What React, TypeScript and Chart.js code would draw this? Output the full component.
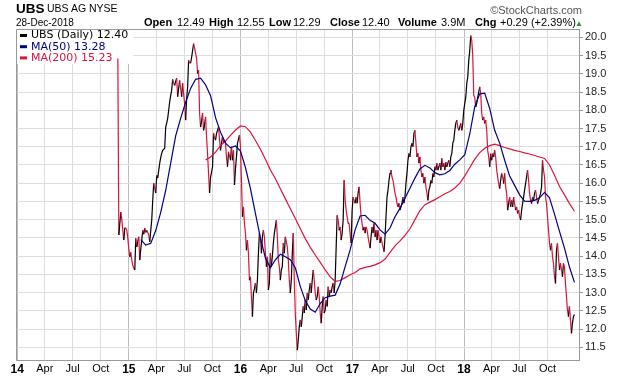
import React, { useEffect, useRef } from "react";
import { Chart, registerables } from "chart.js";

Chart.register(...registerables);

// x unit: days since 2014-01-01
const PRICE_START_DAY = 329; // 2014-11-26
const SAMPLE_DAYS = 3.26;
const MA50_START_DAY = 404;
const MA200_START_DAY = 616;
const MA_STEP_DAYS = 16.3;

const closes = [
  19.42, 14.58, 14.9, 15.21, 15.0, 14.7, 14.44, 14.77, 14.77, 14.71,
  14.5, 14.2, 13.98, 14.1, 13.89, 13.75, 13.67, 13.62, 14.49, 14.25,
  14.4, 14.53, 13.89, 14.2, 14.44, 14.71, 14.6, 14.77, 14.65, 14.71,
  14.65, 14.58, 14.39, 14.7, 14.99, 15.53, 16.0, 15.85, 15.73, 16.22,
  16.14, 16.35, 16.55, 16.7, 16.82, 16.9, 16.93, 16.96, 17.54, 17.65,
  17.78, 18.0, 18.23, 18.4, 18.55, 18.85, 18.75, 18.68, 18.8, 18.88,
  18.37, 18.6, 18.82, 18.6, 18.37, 18.74, 18.45, 18.19, 17.73, 18.3,
  18.64, 19.37, 19.3, 19.29, 19.45, 19.64, 19.83, 19.7, 19.56, 19.42,
  19.01, 19.1, 17.92, 17.54, 17.7, 17.92, 17.45, 17.6, 17.82, 17.27,
  16.8, 16.27, 15.73, 16.17, 16.3, 16.45, 17.37, 17.25, 17.18, 17.37,
  17.45, 17.54, 17.2, 16.9, 17.1, 17.27, 17.1,
  17.18, 17.1, 16.7, 16.45, 16.86, 16.75, 16.63, 17.0, 16.63, 16.9,
  15.95, 16.4, 16.72, 17.1, 17.2, 17.32, 17.0, 16.08, 15.08, 15.35,
  14.9, 14.63, 14.16, 14.44, 14.08, 13.34, 13.43, 12.9, 12.34, 12.99,
  13.1, 13.26, 12.99, 13.34, 14.08, 14.63, 14.44, 14.08, 14.53, 14.71,
  14.53, 14.08, 13.71, 13.98, 13.07, 13.26, 14.08, 13.71, 14.0, 14.36,
  14.63, 14.8, 14.99, 14.53, 13.89, 13.71, 13.34, 13.62, 13.71, 14.36,
  14.08, 14.53, 14.4, 14.25, 13.89, 13.34, 12.99, 13.34, 14.08, 14.63,
  13.34, 12.44, 11.89, 11.42, 11.7, 12.06, 12.25, 12.06, 12.34, 12.62,
  12.44, 12.8, 12.52, 12.99, 12.8, 13.07, 13.26, 12.99, 13.34, 13.62,
  13.34, 12.99, 12.8, 12.89, 13.16, 12.89, 12.44, 12.16, 12.62, 12.89,
  12.44, 12.52, 12.8, 12.62, 13.16, 12.89, 13.07, 12.99, 13.16, 13.26,
  12.99, 13.34, 14.25, 15.12, 14.99, 14.71, 14.8, 14.44, 14.63, 14.99,
  16.08, 15.53, 15.26, 15.08, 14.9, 14.9, 14.6, 14.36, 15.26, 15.62,
  15.53, 15.45, 15.62, 15.45, 15.73, 15.9, 15.45, 15.08, 14.9, 14.71,
  14.8, 14.63, 14.8, 14.71, 14.53, 14.36, 14.22, 14.53, 14.8, 14.63,
  14.9, 14.53, 14.71, 14.44, 14.71, 14.53, 14.36, 14.53, 14.36, 14.25,
  14.12, 14.53, 15.08, 15.62, 15.81, 16.08, 16.27, 16.36, 16.17, 16.08,
  15.9, 15.73, 15.62, 15.45, 15.35, 15.45, 15.26, 15.35, 15.45, 15.62,
  15.45, 15.62, 16.0, 16.27, 16.63, 16.82, 16.72, 17.0, 17.1, 17.0,
  17.37, 17.45, 17.1, 16.72, 16.82, 16.55, 16.72, 16.36, 16.17, 16.27,
  16.0, 16.17, 15.9, 15.73, 15.53, 15.81, 15.9, 16.08, 16.0, 16.27,
  16.17, 16.45, 16.36, 16.55, 16.36, 16.45, 16.55, 16.36, 16.68, 16.45,
  16.55, 16.36, 16.58, 16.45, 16.55, 16.63, 16.45, 16.72, 16.82, 17.1,
  17.18, 17.45, 17.64, 17.73, 17.54, 17.45, 17.54, 17.64, 17.45, 17.64,
  18.0, 18.19, 18.36, 18.74, 18.91, 19.37, 19.64, 20.05, 19.92, 19.5,
  18.41, 18.36, 18.09, 18.19, 18.36, 18.5, 18.64, 18.46, 17.91, 17.73,
  17.82, 17.64, 17.73, 17.45, 16.9, 16.72, 16.45, 16.81, 16.63, 16.81,
  16.72, 16.9, 16.72, 16.36, 16.17, 15.99, 15.85, 16.08, 16.27, 16.17,
  15.99, 16.27, 15.9, 15.72, 15.26, 15.44, 15.62, 15.35, 15.53, 15.35,
  15.62, 15.44, 15.26, 15.35, 15.17, 15.26, 15.08, 14.99, 15.26, 15.44,
  15.62, 15.81, 15.99, 16.17, 16.36, 16.08, 15.72, 15.53, 15.44, 15.62,
  15.53, 15.72, 15.81, 15.62, 15.44, 15.53, 15.62, 15.72, 15.9, 16.63,
  16.36, 16.17, 15.62, 15.44, 15.08, 14.71, 14.35, 14.16, 14.35, 13.98,
  13.8, 13.43, 13.25, 14.16, 14.35, 13.98, 13.62, 13.8, 13.62, 13.43,
  13.8, 13.7, 13.25, 12.89, 12.52, 12.34, 12.62, 12.25, 11.88, 12.16,
  12.34, 12.4,
];

const ma50 = [
  14.45, 14.3, 14.35, 14.7, 15.2, 15.8, 16.55, 17.3, 17.78, 18.22,
  18.6, 18.85, 18.88, 18.7, 18.4, 17.8, 17.4, 17.1, 16.97, 17.02,
  16.88, 16.43, 15.85, 15.17, 14.5, 13.95, 13.68, 13.9, 14.05, 13.98,
  13.9, 13.68, 13.17, 12.78, 12.55, 12.46, 12.7, 12.86, 12.9, 12.93,
  13.24, 13.71, 14.17, 14.72, 15.1, 15.12, 14.98, 14.9, 14.72, 14.6,
  14.77, 15.08, 15.31, 15.59, 15.86, 16.14, 16.39, 16.49, 16.42, 16.29,
  16.23, 16.26, 16.35, 16.52, 16.64, 16.78, 17.35, 18.1, 18.45, 18.47,
  18.05, 17.45, 17.1, 16.63, 16.2, 15.94, 15.68, 15.51, 15.5, 15.53,
  15.6, 15.75, 15.6, 15.15, 14.68, 14.22, 13.7, 13.28,
];

const ma200 = [
  16.64, 16.72, 16.85, 17.03, 17.16, 17.31, 17.46, 17.57, 17.55, 17.4,
  17.17, 16.93, 16.66, 16.36, 16.12, 15.85, 15.57, 15.3, 15.03, 14.75,
  14.48, 14.24, 14.03, 13.83, 13.62, 13.43, 13.31, 13.33, 13.41, 13.49,
  13.55, 13.65, 13.69, 13.72, 13.76, 13.82, 13.92, 14.1, 14.28, 14.42,
  14.57, 14.75, 15.0, 15.25, 15.41, 15.48, 15.55, 15.63, 15.71, 15.77,
  15.87, 16.0, 16.2, 16.43, 16.66, 16.84, 16.96, 17.03, 17.07, 17.03,
  16.98, 16.94, 16.9, 16.87, 16.83, 16.8, 16.76, 16.72, 16.68, 16.5,
  16.22, 15.91, 15.68, 15.44, 15.23,
];

const quarterLabels = [
  "14", "Apr", "Jul", "Oct", "15", "Apr", "Jul", "Oct", "16", "Apr", "Jul", "Oct",
  "17", "Apr", "Jul", "Oct", "18", "Apr", "Jul", "Oct",
];
const priceTicks = [11.5, 12, 12.5, 13, 13.5, 14, 14.5, 15, 15.5, 16, 16.5, 17, 17.5, 18, 18.5, 19, 19.5, 20];
const legendLabels = ["UBS (Daily) 12.40", "MA(50) 13.28", "MA(200) 15.23"];
const quoteFields = [
  ["Open", "12.49"],
  ["High", "12.55"],
  ["Low", "12.29"],
  ["Close", "12.40"],
  ["Volume", "3.9M"],
  ["Chg", "+0.29 (+2.39%)"],
];
const quoteLabelX = [144, 209, 269, 330, 398, 475];
const quoteValueX = [177, 237, 293, 362, 441, 500];

const BLACK = "#000000";
const RED = "#dc143c";
const NAVY = "#000080";
const legendColors = [BLACK, NAVY, RED];

const quarterDay = (i: number) =>
  (Date.UTC(2014 + Math.floor(i / 4), (i % 4) * 3, 1) - Date.UTC(2014, 0, 1)) / 86400000;

const AXIS_FONT = "'Liberation Sans', Arial, sans-serif";
const LEGEND_FONT = "'DejaVu Sans', Verdana, sans-serif";

const framePlugin = {
  id: "frameAndLegend",
  beforeDatasetsDraw(chart: any) {
    const { ctx, chartArea } = chart;
    const { left, top, right, bottom } = chartArea;
    ctx.save();
    ctx.strokeStyle = "#999";
    ctx.lineWidth = 1;
    ctx.beginPath();
    ctx.moveTo(left + 0.5, bottom);
    ctx.lineTo(left + 0.5, top + 0.5);
    ctx.lineTo(right, top + 0.5);
    ctx.stroke();
    ctx.fillStyle = "#fff";
    ctx.fillRect(left + 1, top + 1, 116, 34);
    ctx.font = `11px ${LEGEND_FONT}`;
    ctx.textBaseline = "middle";
    legendLabels.forEach((t, i) => {
      const y = top + 6.5 + i * 11.2;
      ctx.strokeStyle = legendColors[i];
      ctx.lineWidth = 3;
      ctx.beginPath();
      ctx.moveTo(left + 4, y);
      ctx.lineTo(left + 11, y);
      ctx.stroke();
      ctx.fillStyle = legendColors[i];
      ctx.fillText(t, left + 15, y);
    });
    ctx.restore();
  },
};

export default function App() {
  const ref = useRef<HTMLCanvasElement | null>(null);

  useEffect(() => {
    document.body.style.margin = "0";
    const canvas = ref.current;
    if (!canvas) return;
    const priceData = closes.map((v, i) => ({ x: PRICE_START_DAY + i * SAMPLE_DAYS, y: v }));
    const ma50Data = ma50.map((v, i) => ({ x: MA50_START_DAY + i * MA_STEP_DAYS, y: v }));
    const ma200Data = ma200.map((v, i) => ({ x: MA200_START_DAY + i * MA_STEP_DAYS, y: v }));
    const tickDays = quarterLabels.map((_, i) => quarterDay(i));

    const chart = new Chart(canvas, {
      type: "line",
      data: {
        datasets: [
          { label: "MA(50)", data: ma50Data, borderColor: NAVY, borderWidth: 1.2, pointRadius: 0, tension: 0 },
          { label: "MA(200)", data: ma200Data, borderColor: RED, borderWidth: 1.2, pointRadius: 0, tension: 0 },
          {
            label: "UBS",
            data: priceData,
            borderColor: BLACK,
            borderWidth: 1.2,
            pointRadius: 0,
            tension: 0,
            segment: {
              borderColor: (c: any) => (c.p1.parsed.y < c.p0.parsed.y ? RED : BLACK),
            },
          },
        ],
      },
      options: {
        responsive: false,
        animation: false,
        plugins: { legend: { display: false }, tooltip: { enabled: false } },
        layout: { padding: { left: 16, top: 29, right: 0, bottom: 0 } },
        scales: {
          x: {
            type: "linear",
            min: -4,
            max: 1837,
            afterBuildTicks: (s: any) => {
              s.ticks = tickDays.map((v) => ({ value: v }));
            },
            afterFit: (s: any) => {
              s.height = 16;
            },
            ticks: {
              autoSkip: false,
              maxRotation: 0,
              minRotation: 0,
              padding: 2,
              color: "#000",
              font: (c: any) => ({
                family: AXIS_FONT,
                size: c.index % 4 === 0 ? 12 : 11,
                weight: c.index % 4 === 0 ? "bold" : "normal",
              }),
              callback: (_v: any, i: number) => quarterLabels[i],
            },
            grid: {
              drawTicks: false,
              color: (c: any) => (c.index % 4 === 0 ? "#bdbdbd" : "#dedede"),
            },
            border: { color: "#999" },
          },
          y: {
            type: "linear",
            position: "right",
            min: 11.15,
            max: 20.23,
            afterBuildTicks: (s: any) => {
              s.ticks = priceTicks.map((v) => ({ value: v }));
            },
            afterFit: (s: any) => {
              s.width = 41;
            },
            ticks: {
              padding: 2,
              color: "#222",
              font: { family: AXIS_FONT, size: 11 },
              callback: (v: any) => Number(v).toFixed(1),
            },
            grid: { color: "#dedede", tickLength: 4, tickColor: "#999" },
            border: { color: "#999" },
          },
        },
      },
      plugins: [framePlugin],
    });
    return () => chart.destroy();
  }, []);

  const txt: React.CSSProperties = { position: "absolute", whiteSpace: "nowrap", lineHeight: "13px", fontSize: 11 };
  return (
    <div
      style={{
        position: "fixed",
        left: 0,
        top: 0,
        width: 620,
        height: 376,
        background: "#fff",
        fontFamily: "Arial, 'Liberation Sans', sans-serif",
        color: "#000",
      }}
    >
      <canvas ref={ref} width={620} height={376} style={{ position: "absolute", left: 0, top: 0 }} />
      <div style={{ ...txt, left: 16, top: 1, fontSize: 13.5, fontWeight: "bold", lineHeight: "16px" }}>UBS</div>
      <div style={{ ...txt, left: 47, top: 2, fontSize: 10.5 }}>UBS AG NYSE</div>
      <div style={{ ...txt, right: 38, top: 4, color: "#555" }}>©StockCharts.com</div>
      <div style={{ ...txt, left: 16, top: 16, fontSize: 10 }}>28-Dec-2018</div>
      {quoteFields.map(([label, value], i) => (
        <React.Fragment key={label}>
          <div style={{ ...txt, left: quoteLabelX[i], top: 16, fontWeight: "bold" }}>{label}</div>
          <div style={{ ...txt, left: quoteValueX[i], top: 16 }}>{value}</div>
        </React.Fragment>
      ))}
      <div style={{ ...txt, left: 575, top: 17, fontSize: 8, color: "#2e8b2e" }}>▲</div>
    </div>
  );
}
